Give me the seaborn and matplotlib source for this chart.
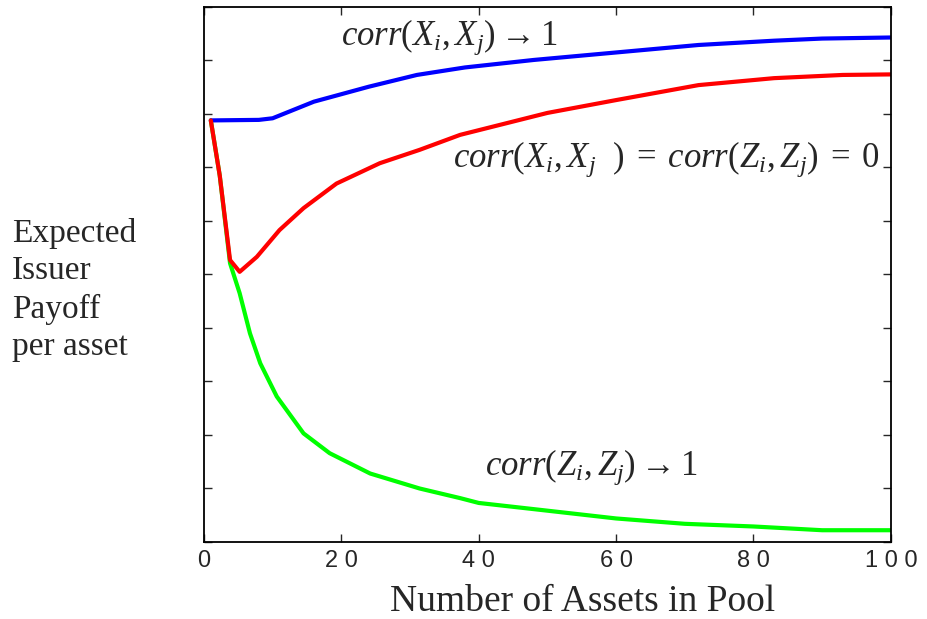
import pandas as pd
import seaborn as sns
import matplotlib.pyplot as plt

# curves
blue_x = [1, 8, 10, 16, 24, 31, 38, 48, 60, 72, 83, 90, 100]
blue_y = [7.88, 7.89, 7.92, 8.23, 8.51, 8.73, 8.87, 9.01, 9.15, 9.29, 9.37, 9.41, 9.43]

red_x = [1, 2.3, 3.8, 5.2, 7.7, 11, 14.5, 19.3, 25.6, 31.4, 37.3, 50, 60, 72, 83, 93, 100]
red_y = [7.88, 6.85, 5.27, 5.05, 5.33, 5.83, 6.24, 6.70, 7.08, 7.33, 7.61, 8.02, 8.26, 8.54, 8.67, 8.73, 8.74]

green_x = [1, 2.3, 3.8, 5.2, 6.7, 8.2, 10.6, 14.5, 18.3, 24.2, 31.4, 37.3, 40, 49, 60, 70, 80, 90, 100]
green_y = [7.88, 6.85, 5.21, 4.65, 3.90, 3.34, 2.72, 2.03, 1.66, 1.28, 1.00, 0.82, 0.73, 0.60, 0.44, 0.34, 0.29, 0.22, 0.22]

xticks = [0, 20, 40, 60, 80, 100]
xtick_labels = ["0", "2 0", "4 0", "6 0", "8 0", "1 0 0"]
yticks = list(range(0, 11))

labels = [
    r"$corr(X_i,X_j)\rightarrow 1$",
    r"$corr(X_i,X_j\ \ )\;=\;corr(Z_i,Z_j)\;=\;0$",
    r"$corr(Z_i,Z_j)\rightarrow 1$",
]

df = pd.concat([
    pd.DataFrame({"n": green_x, "payoff": green_y, "case": "green"}),
    pd.DataFrame({"n": blue_x, "payoff": blue_y, "case": "blue"}),
    pd.DataFrame({"n": red_x, "payoff": red_y, "case": "red"}),
])

sns.set_style("ticks")
plt.rcParams["font.family"] = ["Liberation Serif", "DejaVu Serif"]
plt.rcParams["mathtext.fontset"] = "custom"
plt.rcParams["mathtext.it"] = "Liberation Serif:italic"
plt.rcParams["mathtext.rm"] = "Liberation Serif"

fig = plt.figure(figsize=(9.27, 6.19), dpi=100)
ax = fig.add_axes([0.220, 0.1244, 0.741, 0.8643])

sns.lineplot(
    data=df, x="n", y="payoff", hue="case",
    palette={"green": "#00ff00", "blue": "#0000ff", "red": "#ff0000"},
    hue_order=["green", "blue", "red"],
    sort=False, estimator=None, linewidth=3, legend=False, ax=ax
)

ax.set_xlim(0, 100)
ax.set_ylim(0, 10)
ax.set_xticks(xticks)
ax.set_xticklabels(xtick_labels, family="Liberation Sans", fontsize=17)
ax.set_yticks(yticks)
ax.set_yticklabels([])
ax.tick_params(direction="in", length=6, width=1, top=True, right=True, pad=6)
for s in ax.spines.values():
    s.set_linewidth(1.3)
    s.set_color("black")

ax.text(20.0, 9.29, labels[0], fontsize=25)
ax.text(36.2, 7.01, labels[1], fontsize=25)
ax.text(40.9, 1.25, labels[2], fontsize=25)

ax.set_xlabel("")
ax.set_ylabel("")
fig.text(583 / 927, 1 - 602 / 619, "Number of Assets in Pool", fontsize=27,
         ha="center", va="center")
fig.text(12 / 927, 1 - 290 / 619, "Expected\nIssuer\nPayoff\nper asset", fontsize=24,
         ha="left", va="center", linespacing=1.3)

plt.savefig("out.png", dpi=100)
